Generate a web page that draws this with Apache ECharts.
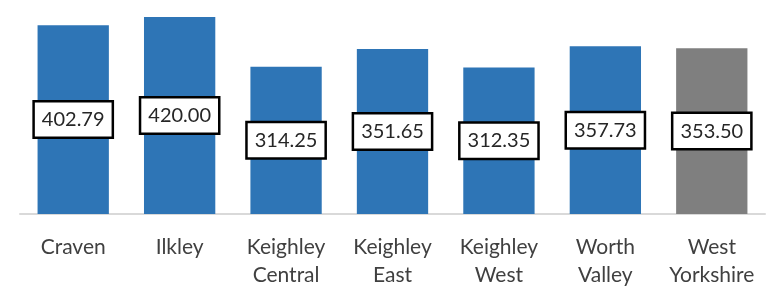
<!DOCTYPE html>
<html>
<head>
<meta charset="utf-8">
<script src="https://cdn.jsdelivr.net/npm/echarts@6/dist/echarts.min.js"></script>
<style>
  html, body { margin: 0; padding: 0; background: #fff; }
  #chart { width: 769px; height: 289px; }
</style>
</head>
<body>
<div id="chart"></div>
<script>
var areas = ['Craven', 'Ilkley', 'Keighley\nCentral', 'Keighley\nEast', 'Keighley\nWest', 'Worth\nValley', 'West\nYorkshire'];
var values = [402.79, 420.00, 314.25, 351.65, 312.35, 357.73, 353.50];
var barColors = ['#2E75B6', '#2E75B6', '#2E75B6', '#2E75B6', '#2E75B6', '#2E75B6', '#7F7F7F'];

var chart = echarts.init(document.getElementById('chart'));
chart.setOption({
  animation: false,
  grid: { left: 20, right: 4, top: 3, bottom: 75 },
  xAxis: {
    type: 'category',
    data: areas,
    axisTick: { show: false },
    axisLine: { lineStyle: { color: '#d9d9d9', width: 2 } },
    axisLabel: {
      interval: 0,
      margin: 19,
      color: '#404040',
      fontFamily: 'Lato',
      fontSize: 21,
      lineHeight: 28
    }
  },
  yAxis: {
    type: 'value',
    min: 0,
    max: 450,
    show: false,
    splitLine: { show: false }
  },
  series: [{
    type: 'bar',
    barWidth: '67%',
    data: values.map(function (v, i) {
      return { value: v, itemStyle: { color: barColors[i] } };
    }),
    label: {
      show: true,
      position: 'inside',
      formatter: function (p) { return p.value.toFixed(2); },
      color: '#262626',
      fontFamily: 'Lato',
      fontSize: 20,
      lineHeight: 22,
      backgroundColor: '#fff',
      borderColor: '#000',
      borderWidth: 2.5,
      padding: [6, 7]
    }
  }]
});
</script>
</body>
</html>
